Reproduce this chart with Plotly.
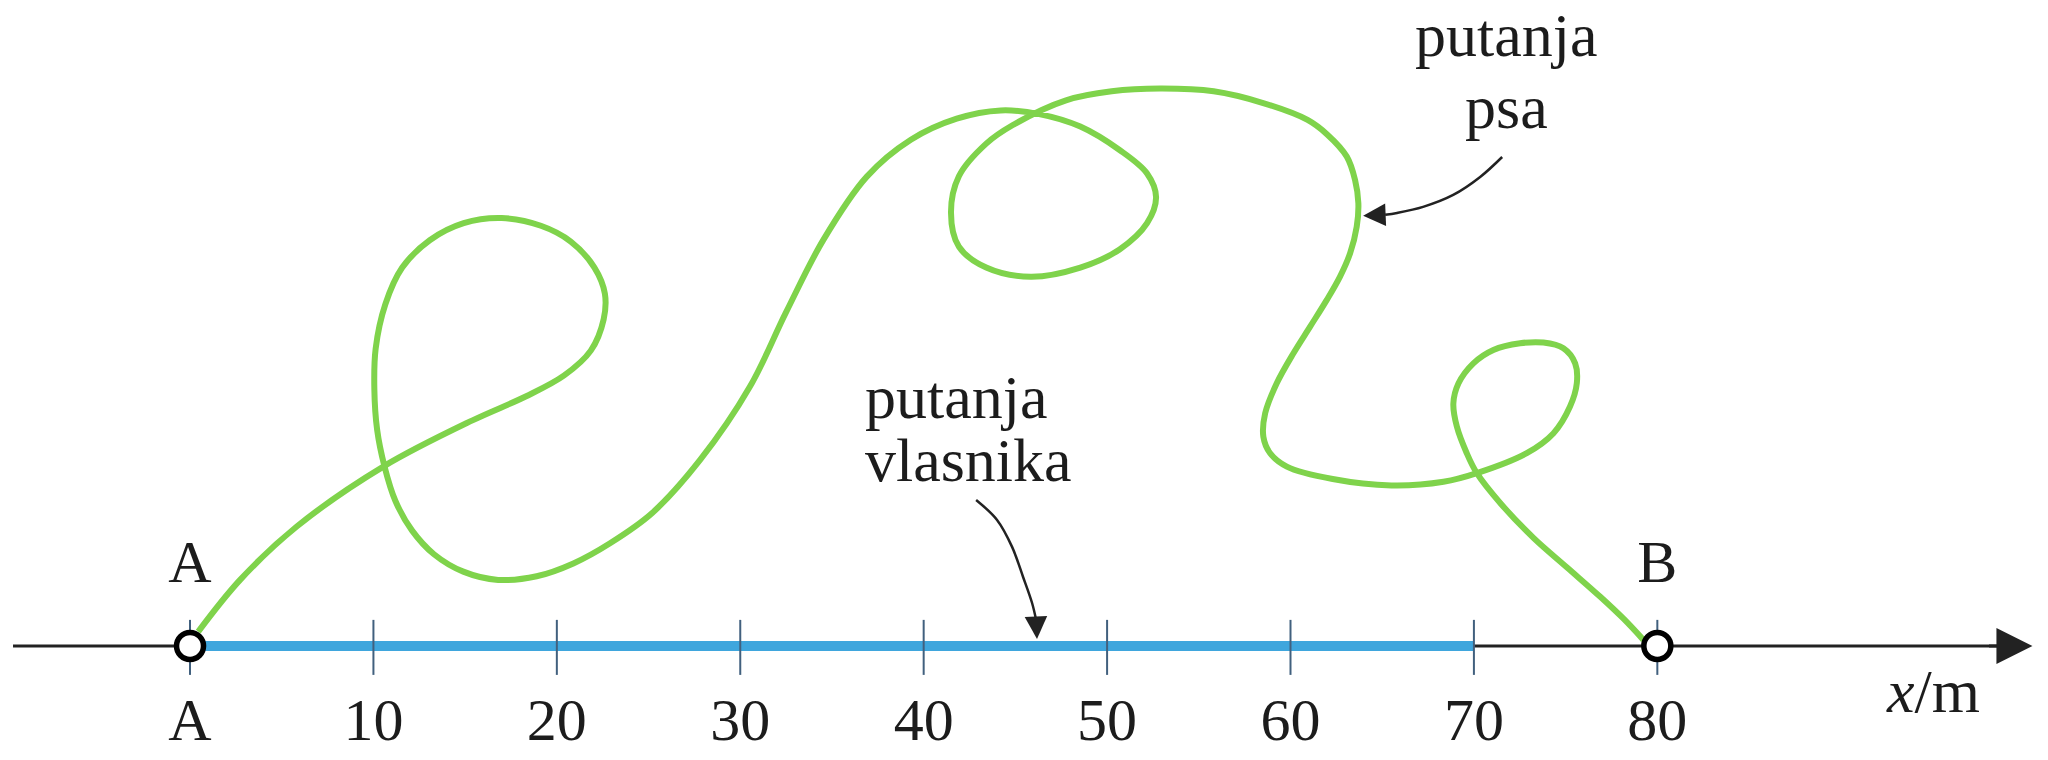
import plotly.graph_objects as go

# putanja psa, ocitano sa slike (x i y u metrima, y = 0 na osi)
dog_x = [0.45, 2.73, 5.82, 10.54, 15.40, 18.30, 20.40, 21.85, 22.55, 22.62, 22.05, 20.76,
         19.13, 16.99, 14.92, 13.07, 11.57, 10.65, 10.12, 10.05, 10.20, 10.60, 11.20, 12.10,
         13.30, 14.90, 16.80, 18.90, 20.90, 22.90, 25.20, 27.81, 30.53, 32.50, 34.53, 36.90,
         39.30, 41.80, 44.20, 46.30, 48.54, 50.68, 52.18, 52.67, 52.18, 50.68, 48.54, 45.84,
         43.41, 41.92, 41.49, 41.92, 43.41, 44.84, 47.76, 50.25, 52.89, 55.81, 58.51, 60.93,
         62.00, 63.07, 63.52, 63.70, 63.61, 63.25, 62.70, 61.98, 61.07, 60.16, 59.25, 58.62,
         58.52, 58.89, 59.80, 62.30, 65.50, 68.34, 70.16, 72.88, 74.34, 75.24, 75.61, 75.52,
         74.88, 73.79, 72.52, 71.06, 69.97, 69.16, 68.88, 69.07, 69.61, 70.16, 71.48, 73.26,
         75.11, 76.89, 78.17, 79.24]
dog_y = [0.78, 3.60, 6.51, 9.78, 12.30, 13.60, 14.75, 16.10, 17.80, 19.20, 20.63, 22.05,
         22.91, 23.33, 23.05, 22.12, 20.63, 18.63, 16.20, 14.00, 11.80, 9.80, 7.90, 6.30,
         5.00, 4.05, 3.60, 3.80, 4.50, 5.60, 7.25, 10.14, 14.14, 18.20, 22.14, 25.59,
         27.60, 28.75, 29.20, 29.00, 28.32, 27.04, 25.76, 24.47, 23.05, 21.62, 20.63, 20.13,
         20.63, 21.77, 23.62, 25.61, 27.39, 28.39, 29.75, 30.24, 30.39, 30.24, 29.60, 28.68,
         27.89, 26.68, 25.41, 24.14, 22.86, 21.41, 20.14, 18.87, 17.41, 15.96, 14.32, 12.69,
         11.41, 10.51, 9.78, 9.10, 8.75, 8.95, 9.42, 10.51, 11.60, 13.05, 14.32, 15.41,
         16.23, 16.54, 16.50, 16.14, 15.41, 14.32, 13.23, 11.96, 10.51, 9.42, 7.74, 5.88,
         4.25, 2.68, 1.47, 0.33]

# putanja vlasnika
owner_x = [0, 70]
owner_y = [0, 0]

# os
tick_pos = [0, 10, 20, 30, 40, 50, 60, 70, 80]
tick_text = ["A", "10", "20", "30", "40", "50", "60", "70", "80"]
points_x = [0, 80]
points_text = ["A", "B"]

# strelice oznaka
arrow_owner_x = [42.86, 44.00, 44.82, 45.42, 45.91, 46.13]
arrow_owner_y = [7.96, 6.87, 5.40, 3.76, 2.34, 1.42]
arrow_dog_x = [71.54, 70.34, 68.87, 67.23, 65.81, 65.16]
arrow_dog_y = [26.66, 25.57, 24.59, 23.94, 23.61, 23.51]

FONT = "Liberation Serif"
TXT = "#1c1c1c"
GREEN = "#7fd34b"
BLUE = "#3fa6dd"
TICK_COL = "#41607e"

fig = go.Figure()

# crna os sa strelicom
fig.add_trace(go.Scatter(x=[-9.65, 99.6], y=[0, 0], mode="lines",
                         line=dict(color="#222222", width=3), hoverinfo="skip"))
fig.add_annotation(x=100.45, y=0, ax=98.0, ay=0, axref="x", ayref="y", text="",
                   showarrow=True, arrowhead=2, arrowsize=2.4, arrowwidth=3,
                   arrowcolor="#222222")

# plava linija
fig.add_trace(go.Scatter(x=owner_x, y=owner_y, mode="lines",
                         line=dict(color=BLUE, width=10), hoverinfo="skip"))

# crtice
tx, ty = [], []
for p in tick_pos:
    tx += [p, p, None]
    ty += [1.42, -1.58, None]
fig.add_trace(go.Scatter(x=tx, y=ty, mode="lines",
                         line=dict(color=TICK_COL, width=2), hoverinfo="skip"))

# zelena putanja psa
fig.add_trace(go.Scatter(x=dog_x, y=dog_y, mode="lines",
                         line=dict(color=GREEN, width=6, shape="spline", smoothing=1.0),
                         hoverinfo="skip"))

# kruzici A i B
fig.add_trace(go.Scatter(x=points_x, y=[0, 0], mode="markers",
                         marker=dict(size=27, color="white",
                                     line=dict(color="black", width=5.5)),
                         hoverinfo="skip"))

# strelica "putanja vlasnika"
fig.add_trace(go.Scatter(x=arrow_owner_x, y=arrow_owner_y, mode="lines",
                         line=dict(color="#222222", width=2.5, shape="spline"),
                         hoverinfo="skip"))
fig.add_annotation(x=46.18, y=0.38, ax=arrow_owner_x[-1], ay=arrow_owner_y[-1],
                   axref="x", ayref="y", text="", showarrow=True, arrowhead=2,
                   arrowsize=1.8, arrowwidth=2.5, arrowcolor="#222222")

# strelica "putanja psa"
fig.add_trace(go.Scatter(x=arrow_dog_x, y=arrow_dog_y, mode="lines",
                         line=dict(color="#222222", width=2.5, shape="spline"),
                         hoverinfo="skip"))
fig.add_annotation(x=63.96, y=23.46, ax=arrow_dog_x[-1], ay=arrow_dog_y[-1],
                   axref="x", ayref="y", text="", showarrow=True, arrowhead=2,
                   arrowsize=1.8, arrowwidth=2.5, arrowcolor="#222222")

# natpisi ispod osi
fig.add_trace(go.Scatter(x=tick_pos, y=[-4.31] * len(tick_pos), mode="text",
                         text=tick_text, textposition="middle center",
                         textfont=dict(family=FONT, size=60, color=TXT),
                         hoverinfo="skip"))
# A i B iznad osi
fig.add_trace(go.Scatter(x=points_x, y=[4.31, 4.31], mode="text",
                         text=points_text, textposition="middle center",
                         textfont=dict(family=FONT, size=60, color=TXT),
                         hoverinfo="skip"))

fig.add_annotation(x=95.04, y=-2.45, text="<i>x</i>/m", showarrow=False,
                   font=dict(family=FONT, size=62, color=TXT))
fig.add_annotation(x=71.76, y=33.3, text="putanja", showarrow=False,
                   font=dict(family=FONT, size=62, color=TXT))
fig.add_annotation(x=71.76, y=29.4, text="psa", showarrow=False,
                   font=dict(family=FONT, size=62, color=TXT))
fig.add_annotation(x=36.7, y=13.58, text="putanja", showarrow=False, xanchor="left",
                   font=dict(family=FONT, size=62, color=TXT))
fig.add_annotation(x=36.7, y=10.14, text="vlasnika", showarrow=False, xanchor="left",
                   font=dict(family=FONT, size=62, color=TXT))

fig.update_layout(
    width=2048, height=760,
    margin=dict(l=0, r=0, t=0, b=0),
    paper_bgcolor="white", plot_bgcolor="white",
    showlegend=False,
    xaxis=dict(range=[-10.36, 101.3], visible=False, fixedrange=True),
    yaxis=dict(range=[-6.22, 35.22], visible=False, fixedrange=True),
)

fig.write_html("out.html", config={"displayModeBar": False},
               post_script="document.body.style.margin='0';")
